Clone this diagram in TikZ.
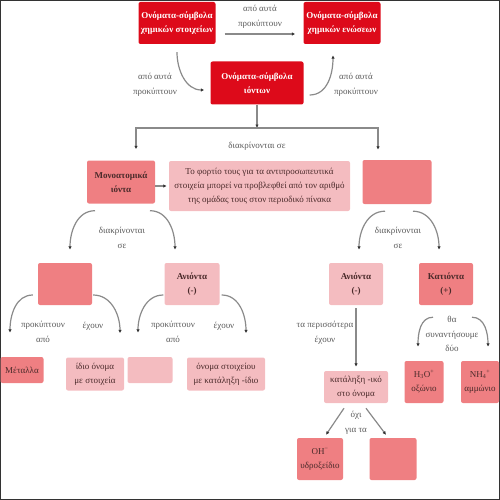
\documentclass[tikz,border=0pt]{standalone}
\usepackage{fontspec}
\setmainfont{Liberation Serif}
\usetikzlibrary{arrows.meta}
\definecolor{deepred}{HTML}{DD0A1A}
\definecolor{midpink}{HTML}{EF7F82}
\definecolor{palepink}{HTML}{F4BCC0}
\definecolor{boxtext}{HTML}{4A2A2A}
\definecolor{linegray}{HTML}{8A8A8A}
\begin{document}
\begin{tikzpicture}[x=1pt,y=-1pt,
  box/.style={rounded corners=2pt,align=center,inner sep=1pt,font=\fontsize{9}{14}\selectfont},
  topbox/.style={box,fill=deepred,text=white,font=\bfseries\fontsize{9}{14}\selectfont},
  midbox/.style={box,fill=midpink,text=boxtext},
  palebox/.style={box,fill=palepink,text=boxtext},
  conn/.style={draw=linegray,line width=1.2pt,-{Latex[length=3.5pt,width=3.5pt,color=black!80]}},
  lbl/.style={align=center,text=black!65,font=\fontsize{9}{14.5}\selectfont}]
\useasboundingbox (0,0) rectangle (500,500);
\draw[black!80,line width=1pt] (0.5,0.5) rectangle (499.5,499.5);
% top row
\node[topbox,minimum width=77pt,minimum height=42pt] (elem) at (177,23) {Ονόματα-σύμβολα\\χημικών στοιχείων};
\node[topbox,minimum width=77pt,minimum height=42pt] (comp) at (342,23) {Ονόματα-σύμβολα\\χημικών ενώσεων};
\node[topbox,minimum width=93pt,minimum height=43pt] (ions) at (257,83) {Ονόματα-σύμβολα\\ιόντων};
\draw[conn] ([xshift=9pt,yshift=-11pt]elem.east) -- node[lbl,above=2pt] (lblA) {από αυτά\\προκύπτουν} ([xshift=-8pt,yshift=-11pt]comp.west);
\draw[conn] ([yshift=-8pt]elem.south) to[out=270,in=180] ([xshift=-6pt,yshift=-7pt]ions.west);
\node[lbl] (lblB) at (155,85) {από αυτά\\προκύπτουν};
\draw[conn] ([xshift=6pt,yshift=-12pt]ions.east) to[out=0,in=270] ([xshift=-9pt,yshift=-11pt]comp.south);
\node[lbl] (lblC) at (356,85) {από αυτά\\προκύπτουν};
% second row
\node[midbox,minimum width=68pt,minimum height=43pt,font=\bfseries\fontsize{9}{14}\selectfont] (mono) at (121,182) {Μονοατομικά\\ιόντα};
\node[palebox,minimum width=181pt,minimum height=50pt] (note) at (259.5,186) {Το φορτίο τους για τα αντιπροσωπευτικά\\στοιχεία μπορεί να προβλεφθεί από τον αριθμό\\της ομάδας τους στον περιοδικό πίνακα};
\node[midbox,minimum width=69pt,minimum height=44pt] (poly) at (397,182) {};
\coordinate (split) at (257,128);
\draw[conn] (ions.south) -- (split);
\draw[conn,{Latex[length=3.5pt,width=3.5pt,color=black!80]}-{Latex[length=3.5pt,width=3.5pt,color=black!80]}] ([xshift=15pt,yshift=11pt]mono.north) |- (split) -| ([xshift=-19pt,yshift=10pt]poly.north);
\node[lbl] (lblD) at (257,146) {διακρίνονται σε};
\draw[conn] (mono.east |- note.west) -- ([xshift=-2pt]note.west);
% third row
\node[midbox,minimum width=54pt,minimum height=42pt] (catA) at (65,284) {};
\node[palebox,minimum width=55pt,minimum height=42pt,font=\bfseries\fontsize{9}{14}\selectfont] (anA) at (192,284) {Ανιόντα\\(-)};
\node[palebox,minimum width=54pt,minimum height=42pt,font=\bfseries\fontsize{9}{14}\selectfont] (anB) at (356,284) {Ανιόντα\\(-)};
\node[midbox,minimum width=54pt,minimum height=42pt,font=\bfseries\fontsize{9}{14}\selectfont] (cat) at (446,284) {Κατιόντα\\(+)};
\draw[conn] ([xshift=-26pt,yshift=-7pt]mono.south) to[out=180,in=90] ([xshift=5pt,yshift=13pt]catA.north);
\draw[conn] ([xshift=29pt,yshift=-7pt]mono.south) to[out=0,in=90] ([xshift=-17pt,yshift=13pt]anA.north);
\node[lbl] (lblE) at (122,238) {διακρίνονται\\σε};
\draw[conn] ([xshift=-12pt,yshift=-7pt]poly.south) to[out=180,in=90] ([xshift=3pt,yshift=13pt]anB.north);
\draw[conn] ([xshift=16pt,yshift=-7pt]poly.south) to[out=0,in=90] ([xshift=-7pt,yshift=13pt]cat.north);
\node[lbl] (lblF) at (398,238) {διακρίνονται\\σε};
% fourth row, left
\node[midbox,minimum width=43pt,minimum height=26pt] (metal) at (22,370) {Μέταλλα};
\node[palebox,minimum width=58pt,minimum height=33pt] (same) at (95,374) {ίδιο όνομα\\με στοιχεία};
\node[palebox,minimum width=45pt,minimum height=26pt] (srcA) at (150,370) {};
\node[palebox,minimum width=78pt,minimum height=33pt] (ide) at (226,374) {όνομα στοιχείου\\με κατάληξη -ίδιο};
\draw[conn] ([xshift=-5pt,yshift=-11pt]catA.west) to[out=180,in=90] ([xshift=-12pt,yshift=24pt]metal.north);
\draw[conn] ([xshift=1pt,yshift=-11pt]catA.east) to[out=0,in=90] ([xshift=25pt,yshift=24pt]same.north);
\node[lbl] (lblG) at (43,332) {προκύπτουν\\από};
\node[lbl] (lblH) at (93,326) {έχουν};
\draw[conn] ([xshift=-1pt,yshift=-11pt]anA.west) to[out=180,in=90] ([xshift=-12pt,yshift=24pt]srcA.north);
\draw[conn] ([xshift=2pt,yshift=-11pt]anA.east) to[out=0,in=90] ([xshift=20pt,yshift=24pt]ide.north);
\node[lbl] (lblI) at (173,332) {προκύπτουν\\από};
\node[lbl] (lblJ) at (224,326) {έχουν};
% right branch
\node[palebox,minimum width=64pt,minimum height=32pt] (iko) at (356,387) {κατάληξη -ικό\\στο όνομα};
\node[midbox,minimum width=39pt,minimum height=42pt] (hyd) at (424,382) {H\textsubscript{3}O\textsuperscript{+}\\οξώνιο};
\node[midbox,minimum width=38pt,minimum height=42pt] (amm) at (480,382) {NH\textsubscript{4}\textsuperscript{+}\\αμμώνιο};
\draw[conn] ([yshift=-3pt]anB.south) -- ([yshift=4pt]iko.north);
\node[lbl] (lblK) at (325,333) {τα περισσότερα\\έχουν};
\draw[conn] ([xshift=-13pt,yshift=-12pt]cat.south) to[out=180,in=90] ([xshift=-6pt,yshift=14pt]hyd.north);
\draw[conn] ([xshift=26pt,yshift=-12pt]cat.south) to[out=0,in=90] ([xshift=8pt,yshift=14pt]amm.north);
\node[lbl] (lblL) at (452,334) {θα\\συναντήσουμε\\δύο};
\node[midbox,minimum width=46pt,minimum height=42pt] (oh) at (320,459) {OH\textsuperscript{−}\\υδροξείδιο};
\node[midbox,minimum width=47pt,minimum height=42pt] (exc) at (393,459) {};
\draw[conn] ([xshift=-12pt,yshift=-5pt]iko.south) -- ([xshift=6pt,yshift=3pt]oh.north);
\draw[conn] ([xshift=10pt,yshift=-5pt]iko.south) -- ([xshift=-7pt,yshift=3pt]exc.north);
\node[lbl] (lblM) at (356,423) {όχι\\για τα};
\end{tikzpicture}
\end{document}
